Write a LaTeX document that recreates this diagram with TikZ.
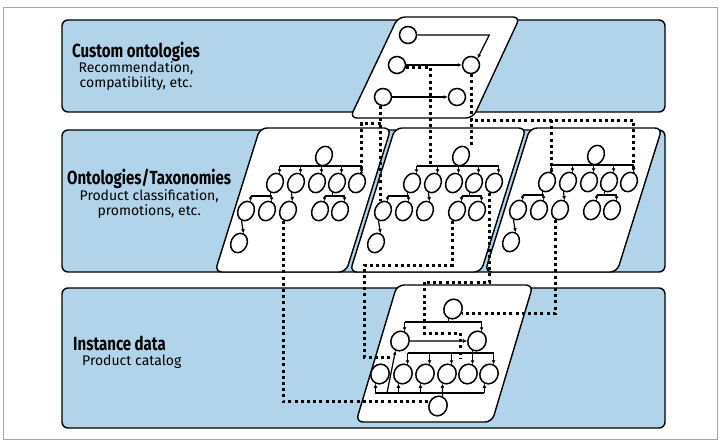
\documentclass[tikz,border=0pt]{standalone}
\usepackage{fontspec}
\setmainfont{Fira Sans}
\usepackage{graphicx}
\usepackage{tikz}
\usetikzlibrary{arrows.meta,shapes.geometric,calc}
\definecolor{layerblue}{RGB}{178,212,235}
\tikzset{layer band/.style={draw, line width=1.4pt, fill=layerblue, rounded corners=6pt},
sheet/.style={draw, line width=1.4pt, fill=white, rounded corners=7pt},
tnode/.style={draw, ellipse, line width=1.5pt, fill=white, inner sep=0pt, minimum width=16pt, minimum height=20pt, rotate=-25},
inode/.style={tnode, minimum width=18pt, minimum height=20pt},
cnode/.style={draw, circle, line width=1.5pt, fill=white, inner sep=0pt, minimum size=17pt},
tline/.style={line width=1.2pt},
tarrow/.style={line width=1.2pt, -{Latex[length=4pt,width=4pt]}},
link/.style={line width=3pt, dash pattern=on 3pt off 3.2pt},
layerhead/.style={font=\bfseries\fontsize{19}{22}\selectfont, inner sep=0pt},
layersub/.style={font=\fontsize{14}{16}\selectfont, inner sep=0pt}}
\newcommand{\narrow}[1]{\scalebox{0.79}[1]{#1}}

% one taxonomy tree: prefix, root x, root y
\newcommand{\taxtree}[3]{%
\begin{scope}[shift={(#2,#3)}]
\node[tnode] (#1r) at (0,0) {};
\node[tnode] (#1a) at (-49,27) {};
\node[tnode] (#1b) at (-28,27) {};
\node[tnode] (#1c) at (-7,27) {};
\node[tnode] (#1d) at (13,27) {};
\node[tnode] (#1e) at (33,27) {};
\node[tnode] (#1aa) at (-78,55) {};
\node[tnode] (#1ab) at (-57,55) {};
\node[tnode] (#1ba) at (-36,55) {};
\node[tnode] (#1da) at (-4,55) {};
\node[tnode] (#1db) at (16,55) {};
\node[tnode] (#1aaa) at (-85,87) {};
\draw[tline] (#1r.south) -- (#1r.south |- 0,10);
\draw[tline] (#1a.north |- 0,10) -- (#1e.north |- 0,10);
\foreach \k in {a,b,c,d,e} \draw[tarrow] (#1\k.north |- 0,10) -- (#1\k.north);
\draw[tline] (#1a.south) -- (#1a.south |- 0,40);
\draw[tline] (#1aa.north |- 0,40) -- (#1ab.north |- 0,40);
\foreach \k in {aa,ab} \draw[tarrow] (#1\k.north |- 0,40) -- (#1\k.north);
\draw[tarrow] (#1b.south) -- (#1ba.north);
\draw[tline] (#1d.south) -- (#1d.south |- 0,40);
\draw[tline] (#1da.north |- 0,40) -- (#1db.north |- 0,40);
\foreach \k in {da,db} \draw[tarrow] (#1\k.north |- 0,40) -- (#1\k.north);
\draw[tarrow] (#1aa.south) -- (#1aaa.north);
\end{scope}}

\begin{document}
\begin{tikzpicture}[x=1pt,y=-1pt]
\useasboundingbox (0,0) rectangle (720,445);
\draw[gray!70, line width=1pt] (3,7) rectangle (717,439);
% layers
\draw[layer band] (62,20) rectangle (665,112);
\draw[layer band] (62,130) rectangle (665,272);
\draw[layer band] (62,288) rectangle (665,428);
% sheets
\draw[sheet] (459,17) -- (520,17) -- (473,118) -- (350,118) -- (398,17) -- cycle;
\draw[sheet] (325,128) -- (391,128) -- (346,272) -- (215,272) -- (260,128) -- cycle;
\draw[sheet] (460,128) -- (526,128) -- (481,272) -- (350,272) -- (395,128) -- cycle;
\draw[sheet] (596,128) -- (662,128) -- (617,272) -- (485,272) -- (530,128) -- cycle;
\draw[sheet] (465,285) -- (533,285) -- (492,422) -- (356,422) -- (397,285) -- cycle;
% labels
\node[layerhead, anchor=base west] (cust-title) at (72,57) {\narrow{Custom ontologies}};
\node[layersub, anchor=base] (cust-sub1) at ($(cust-title.base)+(0,15.5)$) {Recommendation,};
\node[layersub, anchor=base] (cust-sub2) at ($(cust-title.base)+(0,30.5)$) {compatibility, etc.};
\node[layerhead, anchor=base west] (onto-title) at (67,184) {\narrow{Ontologies/Taxonomies}};
\node[layersub, anchor=base] (onto-sub1) at ($(onto-title.base)+(0,16)$) {Product classification,};
\node[layersub, anchor=base] (onto-sub2) at ($(onto-title.base)+(0,31)$) {promotions, etc.};
\node[layerhead, anchor=base west] (inst-title) at (73,350) {\narrow{Instance data}};
\node[layersub, anchor=base west] (inst-sub) at (82,365) {Product catalog};
% custom ontology
\node[cnode] (cust-a) at (408,35) {};
\node[cnode] (cust-b) at (397,65) {};
\node[cnode] (cust-c) at (383,97) {};
\node[cnode] (cust-d) at (471,65) {};
\node[cnode] (cust-e) at (457,97) {};
\draw[tarrow] (cust-a.east) -- ++(72,0) -- (cust-d.north east);
\draw[tarrow] (cust-b) -- (cust-d);
\draw[tarrow] (cust-c) -- (cust-e);
% taxonomies
\taxtree{ltx-}{324}{156}
\taxtree{mtx-}{461}{156}
\taxtree{rtx-}{596}{155}
% instance data
\node[inode] (inst-r) at (453,309) {};
\node[inode] (inst-l) at (400,341) {};
\node[inode] (inst-m) at (477,341) {};
\foreach \k/\x in {1/380,2/403,3/425,4/447,5/468,6/489} \node[inode] (inst-\k) at (\x,374) {};
\node[inode] (inst-b) at (438,406) {};
\draw[tline] (inst-r.south) -- (inst-r.south |- 0,322);
\draw[tline] (inst-l.north |- 0,322) -- (inst-m.north |- 0,322);
\foreach \k in {l,m} \draw[tarrow] (inst-\k.north |- 0,322) -- (inst-\k.north);
\draw[tarrow] (inst-l) -- (inst-m);
\draw[tline] (inst-m.south) -- (inst-m.south |- 0,353);
\draw[tline] (inst-2.north |- 0,353) -- (inst-6.north |- 0,353);
\foreach \k in {2,...,6} \draw[tarrow] (inst-\k.north |- 0,353) -- (inst-\k.north);
\draw[tline] (inst-1.south |- 0,393) -- (inst-6.south |- 0,393);
\foreach \k in {1,2,3,6} \draw[tarrow] (inst-\k.south |- 0,393) -- (inst-\k.south);
\draw[tarrow] (inst-b.north) -- (inst-4.south);
\coordinate (inst-fork) at (387,393);
\draw[tarrow] (inst-fork) -- (inst-l.south);
% links between layers
\coordinate (mtx-hook) at (430,165);
\coordinate (inst-hook-a) at (390,357);
\coordinate (inst-hook-b) at (460,358);
\draw[link] (cust-b.-15) -| (mtx-hook);
\draw[link] (cust-d.south) -- (cust-d.south |- mtx-r.north);
\draw[link] (cust-d.south) |- (rtx-e.north |- 0,120) -- (rtx-e.north) (rtx-a.north |- 0,120) -- (rtx-a.north);
\draw[link] (cust-c.-105) -- (cust-c.-105 |- mtx-aa.north);
\draw[link] (cust-c.-105 |- 0,123) -| (ltx-e.north);
\draw[link] (ltx-ba.south) |- (inst-b.west);
\draw[link] (mtx-da.south) |- (364,265) |- (inst-hook-a);
\draw[link] (mtx-e.south) |- (424,282) |- (460,333) -- (inst-hook-b);
\draw[link] (rtx-ba.south) |- (inst-r.east);
\end{tikzpicture}
\end{document}
